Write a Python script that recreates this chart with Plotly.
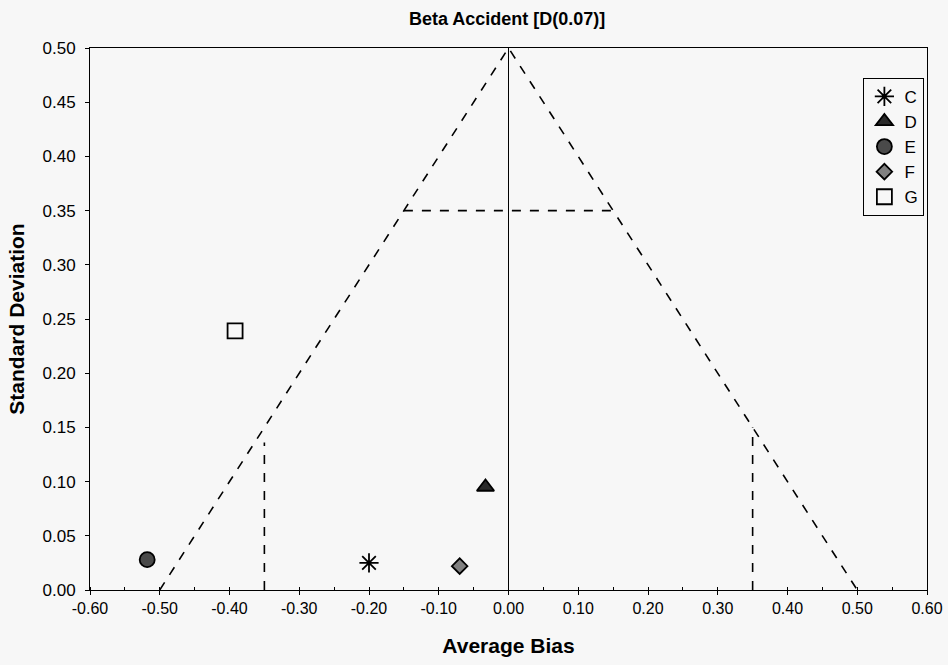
import plotly.graph_objects as go

# Data points
labels = ["C", "D", "E", "F", "G"]
bias = [-0.20, -0.033, -0.518, -0.070, -0.392]
stdev = [0.025, 0.095, 0.028, 0.022, 0.239]
symbols = ["asterisk-open", "triangle-up", "circle", "diamond", "square-open"]
fills = ["black", "#2a2a2a", "#4a4a4a", "#808080", "black"]
sizes = [16, 15, 15, 12, 15]

# Reference funnel lines
funnel_x = [-0.5, 0.0, 0.5]
funnel_y = [0.0, 0.5, 0.0]
hline_x = [-0.15, 0.15]
hline_y = [0.35, 0.35]
vleft_x = [-0.35, -0.35]
vleft_y = [0.0, 0.136]
vright_x = [0.35, 0.35]
vright_y = [0.0, 0.15]
zero_x = [0.0, 0.0]
zero_y = [0.0, 0.5]

xticks = [-0.6, -0.5, -0.4, -0.3, -0.2, -0.1, 0.0, 0.1, 0.2, 0.3, 0.4, 0.5, 0.6]
xticktext = ["-0.60", "-0.50", "-0.40", "-0.30", "-0.20", "-0.10", "0.00",
             "0.10", "0.20", "0.30", "0.40", "0.50", "0.60"]
yticks = [0.0, 0.05, 0.1, 0.15, 0.2, 0.25, 0.3, 0.35, 0.4, 0.45, 0.5]
yticktext = ["0.00", "0.05", "0.10", "0.15", "0.20", "0.25", "0.30",
             "0.35", "0.40", "0.45", "0.50"]

fig = go.Figure()

line_style = dict(color="black", width=1.6, dash="dash")
for lx, ly in [(funnel_x, funnel_y), (hline_x, hline_y), (vleft_x, vleft_y), (vright_x, vright_y)]:
    fig.add_trace(go.Scatter(x=lx, y=ly, mode="lines", line=line_style,
                             showlegend=False, hoverinfo="skip"))
fig.add_trace(go.Scatter(x=zero_x, y=zero_y, mode="lines",
                         line=dict(color="black", width=1),
                         showlegend=False, hoverinfo="skip"))

for i, lab in enumerate(labels):
    fig.add_trace(go.Scatter(
        x=[bias[i]], y=[stdev[i]], mode="markers", name=lab,
        marker=dict(symbol=symbols[i], size=sizes[i], color=fills[i],
                    line=dict(color="black", width=1.8)),
    ))

narrow = "Liberation Sans Narrow, Liberation Sans, Arial, sans-serif"
sans = "Liberation Sans, Arial, sans-serif"

fig.update_layout(
    width=948, height=665,
    paper_bgcolor="#f7f7f7", plot_bgcolor="#f7f7f7",
    margin=dict(l=90, r=21, t=48, b=75),
    title=dict(text="<b>Beta Accident [D(0.07)]</b>", x=0.535, xanchor="center",
               y=0.982, yanchor="top",
               font=dict(family=sans, size=18, color="black")),
    font=dict(family=sans, color="black"),
    legend=dict(x=0.924, y=0.945, xanchor="left", yanchor="top",
                bgcolor="#f7f7f7", bordercolor="black", borderwidth=1,
                font=dict(family=sans, size=17, color="black"),
                itemwidth=30, tracegroupgap=0),
    xaxis=dict(range=[-0.6, 0.6], tickvals=xticks, ticktext=xticktext,
               automargin=False,
               showgrid=False, zeroline=False, showline=True, linecolor="black",
               linewidth=1, mirror=True, ticks="outside", ticklen=4,
               tickcolor="black",
               minor=dict(dtick=0.05, ticks="inside", ticklen=3, tickcolor="black"),
               tickfont=dict(family=narrow, size=16, color="black"),
               title=dict(text="<b>Average Bias</b>",
                          font=dict(family=narrow, size=21, color="black"),
                          standoff=22)),
    yaxis=dict(range=[0, 0.5], tickvals=yticks, ticktext=yticktext,
               automargin=False,
               showgrid=False, zeroline=False, showline=True, linecolor="black",
               linewidth=1, mirror=True, ticks="outside", ticklen=4,
               tickcolor="black", ticklabelstandoff=6,
               tickfont=dict(family=sans, size=17, color="black"),
               title=dict(text="<b>Standard Deviation</b>",
                          font=dict(family=sans, size=21, color="black"),
                          standoff=12)),
)

fig.write_html("out.html", config={"displayModeBar": False},
               post_script="document.body.style.margin='0';")
